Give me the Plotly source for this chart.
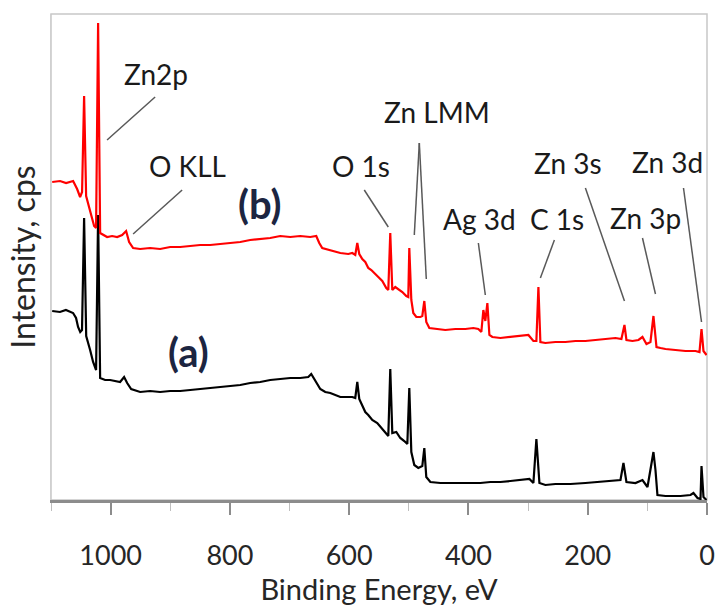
import plotly.graph_objects as go

# ---------------- data ----------------
# Binding energy (eV) and intensity (arbitrary units) for spectrum (a) - black
be_a = [1098, 1085, 1075, 1063, 1058, 1054.6, 1051, 1048, 1044.5, 1041, 1034.4, 1029.4,
        1024.4, 1021, 1017.6, 1009.3, 1000.9, 992.5, 984.1, 977.4, 972.3, 965.6, 950.5,
        933.8, 917.0, 900.2, 883.4, 866.6, 849.9, 833.1, 816.3, 799.5, 782.7, 766.0,
        749.2, 732.4, 715.6, 698.8, 682.1, 668.6, 663.6, 658.6, 653.5, 648.5, 640.1,
        631.7, 614.9, 601.5, 594.8, 589.8, 586.4, 583.1, 578.0, 573.0, 568.0, 561.3,
        552.9, 546.2, 539.5, 534.4, 531.1, 527.7, 521.0, 514.3, 507.6, 502.5, 499.2,
        495.8, 490.8, 484.1, 477.4, 474.0, 470.7, 463.9, 447.2, 422.0, 396.8, 380.0,
        363.3, 346.5, 329.7, 312.9, 297.8, 291.1, 286.1, 281.0, 271.0, 254.2, 229.0,
        203.9, 178.7, 158.6, 145.1, 140.1, 135.1, 120.0, 108.2, 99.8, 94.8, 89.8, 86.4,
        83.1, 69.6, 44.5, 27.7, 22.7, 15.9, 10.9, 9.2, 5.9, 0.8]
int_a = [189, 188, 190, 187, 182, 173, 168, 170, 282, 164, 150, 138,
         130, 285, 122, 120, 120, 119, 118, 123, 117, 111, 108,
         109, 108, 109, 109, 110, 111, 112, 113, 114, 115, 117,
         118, 120, 121, 122, 122, 123, 126, 121, 115, 111, 108,
         107, 103, 103, 103, 102, 118, 101, 95, 88, 85, 80,
         77, 72, 68, 64, 131, 67, 68, 62, 59, 56, 112,
         48, 35, 32, 34, 52, 23, 18, 17, 17, 17, 17,
         18, 18, 19, 20, 21, 17, 61, 17, 15, 16, 16,
         17, 18, 19, 20, 37, 18, 17, 20, 13, 33, 48, 30,
         5, 4, 4, 5, 7, 2, 1, 34, 3, 0]

# Spectrum (b) - red
be_b = [1098, 1084.8, 1074.7, 1062.9, 1056.2, 1051.2, 1047.9, 1044.5, 1041.1, 1037.8,
        1032.7, 1027.7, 1024.4, 1021.0, 1017.6, 1012.6, 1005.9, 997.5, 989.1, 980.7,
        974.0, 969.0, 962.3, 950.5, 933.8, 917.0, 900.2, 883.4, 866.6, 849.9, 833.1,
        816.3, 799.5, 782.7, 766.0, 749.2, 732.4, 715.6, 698.8, 682.1, 665.3, 655.2,
        650.2, 645.2, 631.7, 614.9, 601.5, 594.8, 589.8, 586.4, 583.1, 578.0, 573.0,
        568.0, 562.9, 557.9, 551.2, 544.5, 537.8, 534.4, 531.1, 527.7, 522.7, 517.6,
        510.9, 504.2, 500.9, 499.2, 495.8, 492.5, 487.4, 480.7, 477.4, 474.0, 470.7,
        465.6, 455.6, 438.8, 422.0, 405.2, 391.8, 383.4, 378.4, 375.0, 371.7, 368.3,
        364.9, 359.9, 346.5, 329.7, 312.9, 299.5, 291.1, 286.1, 282.7, 279.4, 271.0,
        254.2, 237.4, 220.6, 203.9, 187.1, 170.3, 153.5, 143.5, 138.4, 135.1, 125.0,
        114.9, 108.2, 101.5, 94.8, 89.8, 84.7, 78.0, 69.6, 52.9, 36.1, 19.3, 12.6,
        9.2, 5.9, 0.8]
int_b = [318, 319, 317, 319, 311, 303, 308, 404, 304, 297,
         287, 274, 272, 477, 267, 265, 263, 264, 263, 265,
         269, 258, 252, 251, 252, 251, 253, 253, 254, 255, 255,
         256, 257, 258, 260, 261, 262, 264, 263, 264, 263, 264,
         257, 252, 250, 247, 246, 247, 245, 257, 246, 241, 238,
         232, 230, 227, 223, 219, 212, 210, 267, 210, 213, 211,
         208, 204, 203, 252, 200, 187, 183, 183, 184, 199, 178,
         172, 171, 170, 171, 171, 172, 171, 168, 190, 179, 197,
         165, 163, 162, 163, 164, 165, 159, 159, 213, 158, 157,
         158, 158, 159, 159, 160, 161, 162, 161, 175, 160, 159,
         160, 163, 156, 158, 184, 153, 152, 151, 150, 149, 149, 148,
         171, 149, 145]

# Axis tick values
x_major_ticks = [0, 200, 400, 600, 800, 1000]
x_tick_labels = ["0", "200", "400", "600", "800", "1000"]

# Peak labels: text, label position (eV, intensity), leader lines [(x0, y0, x1, y1), ...]
label_text = ["Zn2p", "O KLL", "O 1s", "Zn LMM", "Ag 3d", "C 1s", "Zn 3s", "Zn 3p", "Zn 3d"]
label_x = [923.7, 871.7, 579.7, 452.2, 381.7, 250.8, 232.4, 103.2, 66.3]
label_y = [426, 334, 334, 388, 281, 281, 337, 282, 338]
leader_lines = [
    [(925.4, 403, 1006.0, 360)],
    [(880.1, 310, 962.3, 266)],
    [(574.7, 310, 534.4, 273)],
    [(482.4, 357, 490.8, 265), (482.4, 357, 470.7, 221)],
    [(383.4, 257, 371.7, 205)],
    [(255.9, 260, 279.4, 222)],
    [(203.9, 312, 138.4, 199)],
    [(108.2, 262, 86.4, 206)],
    [(39.4, 312, 9.2, 178)],
]
series_names = ["(a)", "(b)"]
series_label_x = [870.0, 749.0]
series_label_y = [148, 296]

FONT = "Lato, 'Open Sans', sans-serif"
TXT = "#262626"
AXIS_GRAY = "#8c8c8c"

fig = go.Figure()
fig.add_trace(go.Scatter(x=be_a, y=int_a, mode="lines", name="(a)",
                         line=dict(color="#000000", width=2.2)))
fig.add_trace(go.Scatter(x=be_b, y=int_b, mode="lines", name="(b)",
                         line=dict(color="#ff0000", width=2.2)))

# frame around plotting area
fig.add_shape(type="rect", xref="paper", yref="paper", x0=0, x1=1, y0=0, y1=1,
              line=dict(color="#c8c8c8", width=1.5), layer="below")

# leader lines and peak labels
for txt, lx, ly, segs in zip(label_text, label_x, label_y, leader_lines):
    fig.add_annotation(x=lx, y=ly, text=txt, showarrow=False,
                       font=dict(family=FONT, size=28, color="#1a1a1a"))
    for (x0, y0, x1, y1) in segs:
        fig.add_shape(type="line", x0=x0, y0=y0, x1=x1, y1=y1,
                      line=dict(color="#595959", width=1.5))

for name, sx, sy in zip(series_names, series_label_x, series_label_y):
    fig.add_annotation(x=sx, y=sy, text="<b>%s</b>" % name, showarrow=False,
                       font=dict(family=FONT, size=40, color="#1c2541"))

fig.update_layout(
    width=717, height=606,
    margin=dict(l=51, r=10, t=14, b=106),
    paper_bgcolor="white", plot_bgcolor="white",
    showlegend=False,
    font=dict(family=FONT, color=TXT),
    xaxis=dict(
        range=[1100, 0], showgrid=False, zeroline=False,
        showline=True, linecolor=AXIS_GRAY, linewidth=2.5,
        tickmode="array", tickvals=x_major_ticks, ticktext=x_tick_labels,
        ticks="outside", ticklen=12, tickwidth=1.5, tickcolor=AXIS_GRAY,
        ticklabelstandoff=18,
        tickfont=dict(family=FONT, size=27, color=TXT),
        minor=dict(dtick=100, tick0=0, ticks="outside", ticklen=8, tickwidth=1,
                   tickcolor="#bfbfbf", showgrid=False),
        title=dict(text="Binding Energy, eV", font=dict(family=FONT, size=29, color=TXT),
                   standoff=10),
        automargin=False,
    ),
    xaxis2=dict(
        overlaying="x", matches="x", anchor="y", side="bottom",
        range=[1100, 0], showgrid=False, zeroline=False, showline=False,
        tickmode="array", tickvals=x_major_ticks, showticklabels=False,
        ticks="inside", ticklen=10, tickwidth=1.5, tickcolor=AXIS_GRAY,
    ),
    yaxis=dict(
        range=[0, 486], showgrid=False, zeroline=False,
        showline=True, linecolor="#d0d0d0", linewidth=1,
        showticklabels=False, ticks="",
        title=dict(text="Intensity, cps", font=dict(family=FONT, size=32, color=TXT),
                   standoff=4),
        automargin=False,
    ),
)

fig.write_html("out.html")
